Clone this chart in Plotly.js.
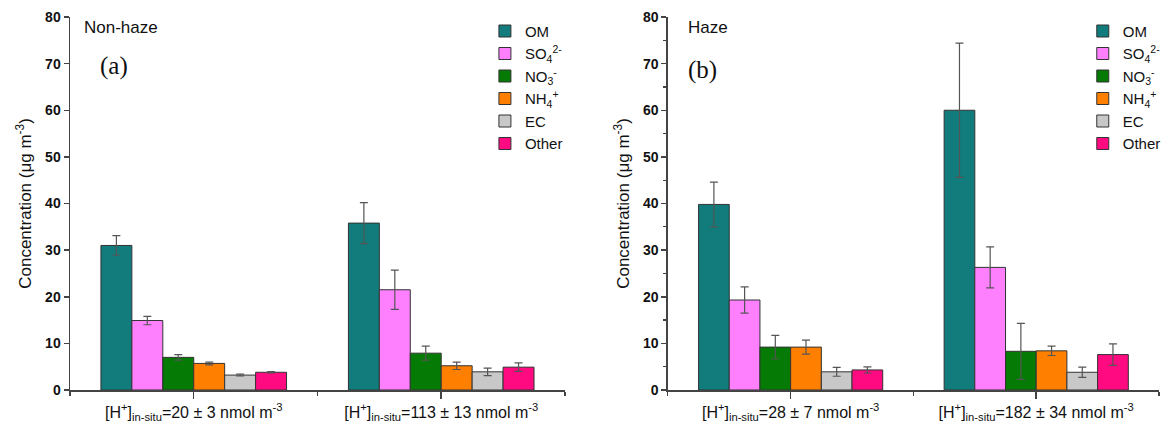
<!DOCTYPE html>
<html>
<head>
<meta charset="utf-8">
<script src="https://cdn.plot.ly/plotly-3.0.1.min.js"></script>
<style>html,body{margin:0;padding:0;background:#fff;}#chart{width:1168px;height:433px;}</style>
</head>
<body>
<div id="chart"></div>
<script>
// ---- data ----
const species = ['OM', 'SO<sub>4</sub><sup>2-</sup>', 'NO<sub>3</sub><sup>-</sup>', 'NH<sub>4</sub><sup>+</sup>', 'EC', 'Other'];
const speciesColors = ['#127c7c', '#ff80ff', '#057a05', '#ff8000', '#c8c8c8', '#ff0a80'];

const nonHazeLabels = ['[H<sup>+</sup>]<sub>in-situ</sub>=20 ± 3 nmol m<sup>-3</sup>', '[H<sup>+</sup>]<sub>in-situ</sub>=113 ± 13 nmol m<sup>-3</sup>'];
const hazeLabels = ['[H<sup>+</sup>]<sub>in-situ</sub>=28 ± 7 nmol m<sup>-3</sup>', '[H<sup>+</sup>]<sub>in-situ</sub>=182 ± 34 nmol m<sup>-3</sup>'];

// values per group, in species order
const nonHazeLow = [31.0, 14.9, 7.0, 5.7, 3.2, 3.8];
const nonHazeLowErr = [2.1, 0.9, 0.6, 0.3, 0.2, 0.15];
const nonHazeHigh = [35.8, 21.5, 7.9, 5.2, 3.9, 4.9];
const nonHazeHighErr = [4.4, 4.2, 1.5, 0.8, 0.8, 0.9];
const hazeLow = [39.8, 19.3, 9.2, 9.2, 3.9, 4.3];
const hazeLowErr = [4.8, 2.8, 2.5, 1.5, 0.95, 0.65];
const hazeHigh = [60.0, 26.3, 8.3, 8.4, 3.8, 7.6];
const hazeHighErr = [14.4, 4.4, 6.0, 1.0, 1.1, 2.3];

// ---- build ----
const FONT = 'Liberation Sans, Arial, sans-serif';
const traces = [];
function addPanel(groups, errs, labels, xa, ya, legendId) {
  species.forEach((name, s) => {
    traces.push({
      type: 'bar',
      name: name,
      x: labels.map((_, i) => i),
      y: groups.map(g => g[s]),
      error_y: {type: 'data', array: errs.map(e => e[s]), visible: true, color: '#555', thickness: 1.2, width: 4},
      marker: {color: speciesColors[s], line: {color: '#333', width: 1}},
      xaxis: xa, yaxis: ya, legend: legendId,
      hoverinfo: 'skip'
    });
  });
}
addPanel([nonHazeLow, nonHazeHigh], [nonHazeLowErr, nonHazeHighErr], nonHazeLabels, 'x', 'y', 'legend');
addPanel([hazeLow, hazeHigh], [hazeLowErr, hazeHighErr], hazeLabels, 'x2', 'y2', 'legend2');

function xAxis(labels, domain, anchor) {
  return {
    domain: domain, anchor: anchor, type: 'linear',
    range: [-0.5, labels.length - 0.5],
    tickmode: 'array', tickvals: labels.map((_, i) => i), ticktext: labels,
    ticks: 'outside', ticklen: 7, tickwidth: 1.5, tickcolor: '#444',
    minor: {tickmode: 'array', tickvals: labels.map((_, i) => i - 0.5).concat([labels.length - 0.5]), ticks: 'outside', ticklen: 4, tickwidth: 1.2, tickcolor: '#444'},
    showline: true, linecolor: '#444', linewidth: 1.5,
    showgrid: false, zeroline: false,
    tickfont: {family: FONT, size: 16, color: '#111'}
  };
}
function yAxis(anchor, withMinor) {
  const ax = {
    anchor: anchor, range: [0, 80], dtick: 10,
    ticks: 'outside', ticklen: 5, tickwidth: 1.5, tickcolor: '#444',
    showline: true, linecolor: '#444', linewidth: 1.5,
    showgrid: false, zeroline: false,
    tickfont: {family: FONT, size: 14, color: '#111', weight: 'bold'},
    title: {text: 'Concentration (μg m<sup>-3</sup>)', font: {family: FONT, size: 17, color: '#111'}, standoff: 9}
  };
  if (withMinor) ax.minor = {dtick: 5, ticks: 'outside', ticklen: 3, tickwidth: 1.2, tickcolor: '#444'};
  return ax;
}
const legendBase = {
  font: {family: FONT, size: 15, color: '#111'},
  bgcolor: 'rgba(0,0,0,0)', borderwidth: 0,
  yanchor: 'top', xanchor: 'left', tracegroupgap: 0, itemwidth: 30
};

const layout = {
  width: 1168, height: 433,
  margin: {l: 70, r: 9, t: 17, b: 43, autoexpand: false},
  paper_bgcolor: '#fff', plot_bgcolor: '#fff',
  barmode: 'group', bargap: 0.25, bargroupgap: 0,
  showlegend: true,
  xaxis: xAxis(nonHazeLabels, [0, 0.4545], 'y'),
  yaxis: yAxis('x', false),
  xaxis2: xAxis(hazeLabels, [0.549, 1], 'y2'),
  yaxis2: yAxis('x2', true),
  legend: Object.assign({}, legendBase, {x: 0.381, y: 1.006}),
  legend2: Object.assign({}, legendBase, {x: 0.930, y: 1.006}),
  annotations: [
    {text: 'Non-haze', xref: 'paper', yref: 'paper', x: 0.011, y: 0.973, xanchor: 'left', yanchor: 'middle', showarrow: false, font: {family: FONT, size: 17, color: '#111'}},
    {text: '(a)', xref: 'paper', yref: 'paper', x: 0.026, y: 0.869, xanchor: 'left', yanchor: 'middle', showarrow: false, font: {family: 'Liberation Serif, Times New Roman, serif', size: 25, color: '#111'}},
    {text: 'Haze', xref: 'paper', yref: 'paper', x: 0.566, y: 0.973, xanchor: 'left', yanchor: 'middle', showarrow: false, font: {family: FONT, size: 17, color: '#111'}},
    {text: '(b)', xref: 'paper', yref: 'paper', x: 0.566, y: 0.858, xanchor: 'left', yanchor: 'middle', showarrow: false, font: {family: 'Liberation Serif, Times New Roman, serif', size: 25, color: '#111'}}
  ]
};

Plotly.newPlot('chart', traces, layout, {staticPlot: true, displayModeBar: false});
</script>
</body>
</html>
